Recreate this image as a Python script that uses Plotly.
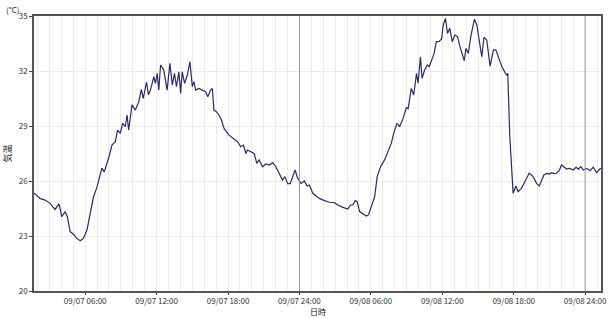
import plotly.graph_objects as go

times = [
    "2023-09-07 01:42", "2023-09-07 01:56", "2023-09-07 02:12", "2023-09-07 02:38", "2023-09-07 03:03",
    "2023-09-07 03:28", "2023-09-07 03:48", "2023-09-07 04:02", "2023-09-07 04:19", "2023-09-07 04:30",
    "2023-09-07 04:44", "2023-09-07 05:01", "2023-09-07 05:18", "2023-09-07 05:35", "2023-09-07 05:51",
    "2023-09-07 06:09", "2023-09-07 06:25", "2023-09-07 06:42", "2023-09-07 06:59", "2023-09-07 07:16",
    "2023-09-07 07:24", "2023-09-07 07:36", "2023-09-07 07:50", "2023-09-07 07:58", "2023-09-07 08:15",
    "2023-09-07 08:32", "2023-09-07 08:43", "2023-09-07 08:57", "2023-09-07 09:09", "2023-09-07 09:22",
    "2023-09-07 09:31", "2023-09-07 09:39", "2023-09-07 09:56", "2023-09-07 10:13", "2023-09-07 10:30",
    "2023-09-07 10:43", "2023-09-07 10:53", "2023-09-07 11:09", "2023-09-07 11:19", "2023-09-07 11:29",
    "2023-09-07 11:46", "2023-09-07 11:54", "2023-09-07 12:03", "2023-09-07 12:11", "2023-09-07 12:20",
    "2023-09-07 12:36", "2023-09-07 12:53", "2023-09-07 13:07", "2023-09-07 13:19", "2023-09-07 13:30",
    "2023-09-07 13:40", "2023-09-07 13:52", "2023-09-07 14:01", "2023-09-07 14:09", "2023-09-07 14:21",
    "2023-09-07 14:35", "2023-09-07 14:48", "2023-09-07 15:00", "2023-09-07 15:08", "2023-09-07 15:17",
    "2023-09-07 15:33", "2023-09-07 15:50", "2023-09-07 16:07", "2023-09-07 16:18", "2023-09-07 16:32",
    "2023-09-07 16:41", "2023-09-07 16:49", "2023-09-07 17:01", "2023-09-07 17:14", "2023-09-07 17:27",
    "2023-09-07 17:40", "2023-09-07 18:05", "2023-09-07 18:14", "2023-09-07 18:30", "2023-09-07 18:48",
    "2023-09-07 19:04", "2023-09-07 19:18", "2023-09-07 19:30", "2023-09-07 19:38", "2023-09-07 19:55",
    "2023-09-07 20:12", "2023-09-07 20:25", "2023-09-07 20:37", "2023-09-07 20:54", "2023-09-07 21:11",
    "2023-09-07 21:28", "2023-09-07 21:45", "2023-09-07 22:01", "2023-09-07 22:18", "2023-09-07 22:35",
    "2023-09-07 22:47", "2023-09-07 23:01", "2023-09-07 23:14", "2023-09-07 23:26", "2023-09-07 23:38",
    "2023-09-07 23:51", "2023-09-08 00:08", "2023-09-08 00:25", "2023-09-08 00:38", "2023-09-08 00:50",
    "2023-09-08 01:07", "2023-09-08 01:24", "2023-09-08 01:40", "2023-09-08 02:06", "2023-09-08 02:31",
    "2023-09-08 02:56", "2023-09-08 03:14", "2023-09-08 03:39", "2023-09-08 04:04", "2023-09-08 04:17",
    "2023-09-08 04:29", "2023-09-08 04:41", "2023-09-08 04:51", "2023-09-08 05:03", "2023-09-08 05:20",
    "2023-09-08 05:37", "2023-09-08 05:48", "2023-09-08 06:02", "2023-09-08 06:19", "2023-09-08 06:32",
    "2023-09-08 06:49", "2023-09-08 07:09", "2023-09-08 07:27", "2023-09-08 07:43", "2023-09-08 07:55",
    "2023-09-08 08:12", "2023-09-08 08:25", "2023-09-08 08:42", "2023-09-08 08:59", "2023-09-08 09:08",
    "2023-09-08 09:24", "2023-09-08 09:36", "2023-09-08 09:50", "2023-09-08 09:58", "2023-09-08 10:10",
    "2023-09-08 10:18", "2023-09-08 10:31", "2023-09-08 10:45", "2023-09-08 10:54", "2023-09-08 11:05",
    "2023-09-08 11:19", "2023-09-08 11:30", "2023-09-08 11:42", "2023-09-08 11:56", "2023-09-08 12:05",
    "2023-09-08 12:16", "2023-09-08 12:26", "2023-09-08 12:38", "2023-09-08 12:50", "2023-09-08 13:03",
    "2023-09-08 13:17", "2023-09-08 13:29", "2023-09-08 13:51", "2023-09-08 13:59", "2023-09-08 14:11",
    "2023-09-08 14:25", "2023-09-08 14:42", "2023-09-08 14:54", "2023-09-08 15:07", "2023-09-08 15:19",
    "2023-09-08 15:30", "2023-09-08 15:44", "2023-09-08 16:01", "2023-09-08 16:18", "2023-09-08 16:30",
    "2023-09-08 16:43", "2023-09-08 17:00", "2023-09-08 17:17", "2023-09-08 17:25", "2023-09-08 17:30",
    "2023-09-08 17:40", "2023-09-08 17:57", "2023-09-08 18:11", "2023-09-08 18:22", "2023-09-08 18:39",
    "2023-09-08 18:56", "2023-09-08 19:18", "2023-09-08 19:38", "2023-09-08 19:55", "2023-09-08 20:09",
    "2023-09-08 20:21", "2023-09-08 20:32", "2023-09-08 20:46", "2023-09-08 20:59", "2023-09-08 21:11",
    "2023-09-08 21:23", "2023-09-08 21:36", "2023-09-08 21:49", "2023-09-08 22:01", "2023-09-08 22:13",
    "2023-09-08 22:27", "2023-09-08 22:43", "2023-09-08 23:00", "2023-09-08 23:14", "2023-09-08 23:26",
    "2023-09-08 23:38", "2023-09-08 23:51", "2023-09-09 00:08", "2023-09-09 00:25", "2023-09-09 00:41",
    "2023-09-09 00:58", "2023-09-09 01:12", "2023-09-09 01:20",
]

temps = [
    25.35, 25.2, 25.05, 24.96, 24.78,
    24.45, 24.75, 24.05, 24.33, 24.05,
    23.24, 23.1, 22.87, 22.74, 22.87,
    23.33, 24.24, 25.14, 25.65, 26.3,
    26.7, 26.5, 26.96, 27.24, 27.96,
    28.14, 28.78, 28.6, 29.15, 28.96,
    29.6, 28.78, 30.15, 29.87, 30.33,
    31.0, 30.5, 31.4, 30.7, 30.96,
    31.69, 31.33, 31.87, 30.96, 32.33,
    32.05, 30.96, 32.42, 31.24, 31.87,
    31.14, 31.96, 30.78, 31.96, 31.33,
    31.78, 32.51, 31.15, 31.42, 30.96,
    31.05, 30.96, 30.87, 30.6, 30.96,
    31.05, 29.87, 29.78, 29.6, 29.33,
    28.87, 28.5, 28.42, 28.33, 28.14,
    27.87, 27.96, 27.5, 27.69, 27.6,
    27.5, 26.96, 27.15, 26.78, 26.93,
    26.87, 27.0, 26.78, 26.42, 26.05,
    26.24, 25.84, 25.87, 26.24, 26.6,
    26.15, 25.87, 26.0, 25.73, 25.78,
    25.33, 25.18, 25.05, 24.93, 24.84,
    24.82, 24.69, 24.56, 24.47, 24.69,
    24.69, 24.93, 24.87, 24.33, 24.2,
    24.09, 24.15, 24.6, 25.14, 26.24,
    26.78, 27.15, 27.6, 28.05, 28.6,
    29.15, 28.96, 29.4, 30.0, 29.95,
    31.05, 30.69, 31.87, 31.33, 32.78,
    31.6, 32.05, 32.33, 32.24, 32.6,
    32.96, 33.6, 33.6, 33.73, 34.51,
    34.87, 34.05, 34.33, 33.6, 33.96,
    33.87, 33.33, 32.56, 33.24, 32.96,
    33.96, 34.82, 34.51, 33.69, 32.78,
    33.84, 33.69, 32.27, 33.15, 33.15,
    32.78, 32.24, 31.9, 31.78, 31.87,
    28.5, 25.33, 25.73, 25.42, 25.6,
    25.96, 26.42, 26.24, 25.87, 25.73,
    26.05, 26.33, 26.42, 26.38, 26.45,
    26.4, 26.42, 26.56, 26.87, 26.75,
    26.65, 26.69, 26.6, 26.75, 26.65,
    26.78, 26.6, 26.69, 26.56, 26.75,
    26.45, 26.64, 26.69,
]

x_tick_vals = ["2023-09-07 06:00", "2023-09-07 12:00", "2023-09-07 18:00", "2023-09-08 00:00",
               "2023-09-08 06:00", "2023-09-08 12:00", "2023-09-08 18:00", "2023-09-09 00:00"]
x_tick_text = ["09/07 06:00", "09/07 12:00", "09/07 18:00", "09/07 24:00",
               "09/08 06:00", "09/08 12:00", "09/08 18:00", "09/08 24:00"]
day_lines = ["2023-09-08 00:00", "2023-09-09 00:00"]
y_tick_vals = [20, 23, 26, 29, 32, 35]

FONT = "Noto Sans CJK JP"

fig = go.Figure()
fig.add_trace(go.Scatter(x=times, y=temps, mode="lines",
                         line=dict(color="#2b2b6b", width=1.2), showlegend=False))

for d in day_lines:
    fig.add_shape(type="line", xref="x", yref="paper", x0=d, x1=d, y0=0, y1=1,
                  line=dict(color="#999999", width=1), layer="above")

fig.update_layout(
    width=610, height=318,
    margin=dict(l=34, r=9, t=16, b=27),
    paper_bgcolor="white", plot_bgcolor="white",
    font=dict(family=FONT, size=8, color="#333333"),
    xaxis=dict(
        type="date", range=[times[0], times[-1]], automargin=False,
        tickmode="array", tickvals=x_tick_vals, ticktext=x_tick_text,
        ticks="outside", ticklen=2, tickcolor="#444",
        ticklabeloverflow="allow",
        showgrid=True, gridcolor="#ececec", gridwidth=1,
        minor=dict(tickmode="linear", tick0="2023-09-07 00:00", dtick=3600000,
                   showgrid=True, gridcolor="#ececec", ticklen=0),
        showline=True, linecolor="#555", linewidth=1.5, mirror=True,
        zeroline=False,
        tickfont=dict(size=8, color="#333"),
    ),
    yaxis=dict(
        range=[20, 35], tickmode="array", tickvals=y_tick_vals, automargin=False,
        ticks="outside", ticklen=3, tickcolor="#444",
        showgrid=True, gridcolor="#ececec", gridwidth=1,
        showline=True, linecolor="#555", linewidth=1.5, mirror=True,
        zeroline=False,
        title=dict(text="気温", font=dict(size=9, color="#222"), standoff=6),
        tickfont=dict(size=8, color="#333"),
    ),
    annotations=[
        dict(text="(°C)", xref="paper", yref="paper", x=-0.053, y=1.052,
             xanchor="left", yanchor="top", showarrow=False,
             font=dict(size=8, color="#222")),
        dict(text="日時", xref="paper", yref="paper", x=0.5, y=-0.0964,
             xanchor="center", yanchor="bottom", showarrow=False, borderpad=0,
             font=dict(size=8, color="#222")),
    ],
)

fig.write_html("out.html")
